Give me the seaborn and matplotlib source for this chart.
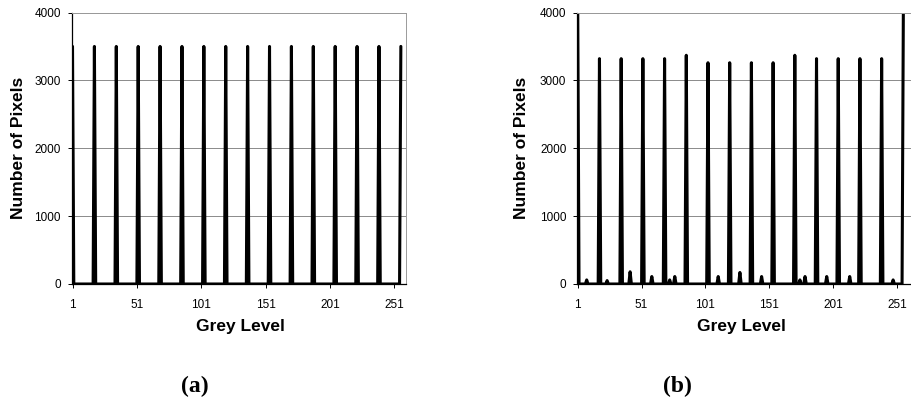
import numpy as np
import pandas as pd
import matplotlib
matplotlib.use("Agg")
import matplotlib.pyplot as plt
import seaborn as sns

# ---------------- data ----------------
grey_levels = list(range(1, 257))
spike_levels = [1, 18, 35, 52, 69, 86, 103, 120, 137, 154, 171, 188, 205, 222, 239, 256]
spike_heights_a = [3500, 3500, 3500, 3500, 3500, 3500, 3500, 3500,
                   3500, 3500, 3500, 3500, 3500, 3500, 3500, 3500]
spike_heights_b = [4000, 3320, 3320, 3320, 3320, 3370, 3260, 3260,
                   3260, 3260, 3370, 3320, 3320, 3320, 3320, 4000]
bump_levels_b = [8, 24, 42, 59, 73, 77, 111, 128, 145, 175, 179, 196, 214, 248]
bump_heights_b = [60, 50, 180, 110, 60, 110, 110, 170, 110, 60, 110, 110, 110, 60]
y_ticks = [0, 1000, 2000, 3000, 4000]
x_ticks = [1, 51, 101, 151, 201, 251]
panel_labels = ["(a)", "(b)"]


def histogram(levels, heights):
    counts = dict.fromkeys(grey_levels, 0)
    for lv, h in zip(levels, heights):
        counts[lv] = h
    return pd.DataFrame({"level": grey_levels, "count": [counts[g] for g in grey_levels]})


df_a = histogram(spike_levels, spike_heights_a)
df_b = histogram(spike_levels + bump_levels_b, spike_heights_b + bump_heights_b)

# ---------------- style ----------------
sns.set_theme(style="white")
plt.rcParams["font.family"] = ["Liberation Sans", "DejaVu Sans"]
plt.rcParams["text.color"] = "black"
plt.rcParams["axes.labelcolor"] = "black"

W, H = 912, 407
fig = plt.figure(figsize=(W / 100, H / 100), dpi=100)


def px_axes(x0, x1, ytop, ybot):
    return fig.add_axes([x0 / W, 1 - ybot / H, (x1 - x0) / W, (ybot - ytop) / H])


ax_a = px_axes(72, 406, 12.5, 284)
ax_b = px_axes(577.5, 911, 12.5, 284)

for ax, df, xlim in [(ax_a, df_a, (0.6, 260)), (ax_b, df_b, (0.8, 262))]:
    sns.lineplot(data=df, x="level", y="count", ax=ax, color="black",
                 linewidth=2.2, legend=False)
    ax.set_xlim(*xlim)
    ax.set_ylim(0, 4000)
    ax.set_yticks(y_ticks)
    ax.set_xticks(x_ticks)
    ax.set_xlabel("")
    ax.set_ylabel("")
    ax.yaxis.grid(True, color="#8a8a8a", linewidth=0.7)
    ax.set_axisbelow(True)
    ax.tick_params(axis="both", which="both", bottom=True, left=True,
                   direction="out", length=3, width=0.7, color="black",
                   labelsize=8.5, labelcolor="black")
    ax.tick_params(axis="y", pad=5)
    ax.tick_params(axis="x", pad=8)
    for s in ["left", "bottom"]:
        ax.spines[s].set_color("black")
        ax.spines[s].set_linewidth(0.9)
    for s in ["top", "right"]:
        ax.spines[s].set_color("#9a9a9a")
        ax.spines[s].set_linewidth(0.7)

# axis titles and panel labels
for xc_y, xc_x, pl_x, pl in [(19, 240, 195, panel_labels[0]), (521, 741, 677, panel_labels[1])]:
    fig.text(xc_y / W, 1 - 148 / H, "Number of Pixels", rotation=90,
             ha="center", va="center", fontsize=12.5, fontweight="bold")
    fig.text(xc_x / W, 1 - 327 / H, "Grey Level", ha="center", va="center",
             fontsize=12.5, fontweight="bold")
    fig.text(pl_x / W, 1 - 386 / H, pl, ha="center", va="center",
             fontsize=17, fontweight="bold",
             family=["Liberation Serif", "DejaVu Serif"])

fig.savefig("out.png", dpi=100, facecolor="white")
